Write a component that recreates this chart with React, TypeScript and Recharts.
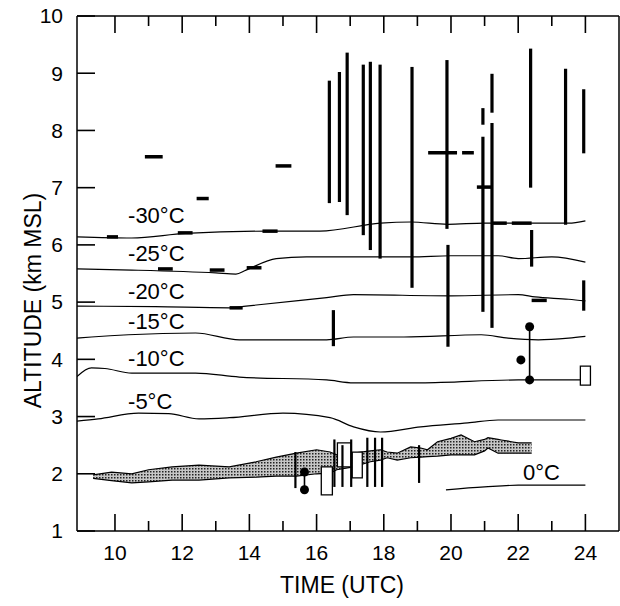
import React from 'react';
import {
  ComposedChart, Line, Area, XAxis, YAxis, ReferenceLine, ReferenceArea, ReferenceDot, Label,
} from 'recharts';

const FONT = '"Liberation Sans", Arial, Helvetica, sans-serif';
const PLOT_H = 515; // plot height (606 - 75 bottom axis - 16 top axis)

const xTicks = [10, 11, 12, 13, 14, 15, 16, 17, 18, 19, 20, 21, 22, 23, 24];
const yTicks = [1, 2, 3, 4, 5, 6, 7, 8, 9, 10];

// isotherms: [time UTC, altitude km]
const iso30 = [[8.87, 6.14], [10.5, 6.12], [12.1, 6.2], [14.6, 6.24], [16.1, 6.24], [17.9, 6.38], [18.8, 6.4], [19.9, 6.36], [21.0, 6.38], [22.4, 6.38], [23.5, 6.38], [24, 6.42]];
const iso25 = [[8.87, 5.58], [10.5, 5.56], [13.0, 5.51], [13.6, 5.49], [13.9, 5.56], [14.8, 5.76], [15.7, 5.79], [17.1, 5.79], [18.8, 5.79], [20.0, 5.81], [21.4, 5.81], [22.0, 5.76], [23.0, 5.79], [24, 5.7]];
const iso20 = [[8.87, 4.93], [11.2, 4.92], [13.4, 4.9], [13.9, 4.93], [16.3, 5.08], [17.1, 5.13], [20.0, 5.11], [22.0, 5.13], [22.5, 5.09], [23.5, 5.05], [24, 5.02]];
const iso15 = [[8.87, 4.37], [9.3, 4.39], [10.4, 4.43], [12.4, 4.46], [13.7, 4.34], [16.3, 4.34], [17.1, 4.39], [18.6, 4.39], [20.9, 4.43], [21.7, 4.37], [22.6, 4.34], [23.5, 4.37], [24, 4.4]];
const iso10 = [[8.87, 3.7], [9.3, 3.85], [9.7, 3.84], [10.5, 3.76], [12.4, 3.76], [13.7, 3.69], [16.3, 3.64], [17.1, 3.59], [19.1, 3.59], [22.0, 3.64], [23.85, 3.64]];
const iso5 = [[8.87, 2.92], [9.5, 2.96], [10.7, 3.06], [11.6, 3.05], [12.5, 2.96], [13.4, 2.98], [15.0, 3.06], [16.4, 2.98], [17.1, 2.82], [17.9, 2.73], [19.1, 2.82], [20.5, 2.89], [21.4, 2.94], [24, 2.94]];
const iso0 = [[19.85, 1.72], [21.0, 1.77], [22.0, 1.8], [24, 1.8]];
const isotherms = [iso30, iso25, iso20, iso15, iso10, iso5, iso0];

const isoLabels = ['-30°C', '-25°C', '-20°C', '-15°C', '-10°C', '-5°C', '0°C'];
const isoLabelT = [10.39, 10.39, 10.39, 10.39, 10.39, 10.39, 22.14];
const isoLabelK = [6.38, 5.72, 5.06, 4.53, 3.88, 3.13, 1.89];

// stippled band
const bandT = [9.35, 9.9, 10.5, 11.0, 11.7, 12.5, 13.4, 14.2, 14.8, 15.4, 16.0, 16.4, 16.6, 17.1, 17.6, 17.9, 18.1, 18.4, 18.8, 19.1, 19.3, 19.6, 20.0, 20.3, 20.7, 21.0, 21.1, 21.4, 21.5, 21.8, 22.0, 22.4];
const bandHigh = [1.98, 2.03, 2.0, 2.07, 2.12, 2.15, 2.12, 2.21, 2.29, 2.36, 2.42, 2.38, 2.33, 2.36, 2.4, 2.42, 2.38, 2.36, 2.47, 2.45, 2.42, 2.56, 2.62, 2.68, 2.56, 2.6, 2.63, 2.6, 2.59, 2.56, 2.54, 2.54];
const bandLow = [1.92, 1.88, 1.84, 1.86, 1.89, 1.89, 1.93, 1.94, 1.96, 1.96, 2.0, 2.01, 2.07, 2.12, 2.21, 2.24, 2.28, 2.24, 2.28, 2.29, 2.3, 2.31, 2.33, 2.33, 2.33, 2.4, 2.45, 2.36, 2.36, 2.36, 2.36, 2.36];

// thick vertical bars (upper)
const barT = [16.38, 16.68, 16.91, 17.39, 17.6, 17.89, 18.84, 19.88, 19.91, 20.95, 20.95, 21.22, 21.22, 22.37, 22.4, 23.41, 23.95, 23.95, 16.5];
const barTop = [8.87, 9.02, 9.36, 9.15, 9.2, 9.15, 9.11, 9.23, 6.0, 8.39, 7.89, 8.99, 8.13, 9.43, 6.26, 9.08, 8.72, 5.38, 4.86];
const barBot = [6.73, 6.75, 6.52, 6.17, 5.91, 5.76, 5.25, 6.28, 4.22, 8.1, 4.83, 8.31, 4.55, 7.0, 5.62, 6.35, 7.6, 4.85, 4.23];

// thinner vertical bars (low)
const lowT = [15.37, 16.53, 16.77, 17.03, 17.51, 17.74, 17.95, 19.05];
const lowTop = [2.38, 2.6, 2.5, 2.6, 2.63, 2.63, 2.63, 2.5];
const lowBot = [1.75, 1.77, 1.77, 1.77, 1.77, 1.77, 1.77, 1.84];

// horizontal dashes
const dashT1 = [9.76, 10.89, 11.28, 11.87, 12.43, 12.82, 13.41, 13.92, 14.39, 14.78, 19.32, 20.33, 20.77, 21.22, 21.81, 22.4];
const dashT2 = [10.09, 11.42, 11.72, 12.31, 12.79, 13.26, 13.8, 14.36, 14.84, 15.25, 20.18, 20.68, 21.22, 21.66, 22.4, 22.85];
const dashK = [6.14, 7.54, 5.58, 6.21, 6.81, 5.56, 4.9, 5.6, 6.24, 7.38, 7.61, 7.61, 7.01, 6.38, 6.38, 5.03];

// open boxes
const boxT1 = [16.14, 16.62, 17.06, 23.85];
const boxT2 = [16.47, 17.03, 17.36, 24.15];
const boxK1 = [1.63, 2.12, 1.93, 3.55];
const boxK2 = [2.12, 2.54, 2.38, 3.88];

// dots and their connectors
const dotT = [15.64, 15.64, 22.34, 22.08, 22.34];
const dotK = [2.03, 1.72, 4.57, 3.99, 3.64];
const linkT = [15.64, 22.34];
const linkTop = [2.03, 4.57];
const linkBot = [1.72, 3.64];

// bottom axis tick: draws the inward tick at the bottom and the matching one on the top frame
const XTick = (props: any) => {
  const { x, y, payload } = props;
  const major = payload.value % 2 === 0;
  const len = major ? 17 : 10;
  const yTop = y - PLOT_H;
  return (
    <g>
      <line x1={x} x2={x} y1={y} y2={y - len} stroke="#000" strokeWidth={1.6} />
      <line x1={x} x2={x} y1={yTop} y2={yTop + len} stroke="#000" strokeWidth={1.6} />
      {major && (
        <text x={x} y={y + 22} dy="0.35em" textAnchor="middle" fontSize={21} fontFamily={FONT} fill="#000">
          {payload.value}
        </text>
      )}
    </g>
  );
};

const YTick = (props: any) => {
  const { x, y, payload } = props;
  return (
    <g>
      <line x1={x} x2={x + 18} y1={y} y2={y} stroke="#000" strokeWidth={1.6} />
      <text x={x - 14} y={y} dy="0.35em" textAnchor="end" fontSize={21} fontFamily={FONT} fill="#000">
        {payload.value}
      </text>
    </g>
  );
};

export default function App() {
  const band = bandT.map((t, i) => ({ t, r: [bandLow[i], bandHigh[i]] }));

  return (
    <div style={{ position: 'absolute', left: 0, top: 0, width: 620, height: 606, background: '#fff' }}>
      <ComposedChart width={620} height={606} margin={{ top: 0, right: 0, bottom: 0, left: 0 }}>
        <defs>
          <pattern id="stipple" width="3" height="3" patternUnits="userSpaceOnUse">
            <rect width="3" height="3" fill="#c6c6c6" />
            <rect x="0" y="0" width="1.5" height="1.5" fill="#222" />
          </pattern>
        </defs>
        <XAxis
          dataKey="t" type="number" domain={[8.87, 25]} ticks={xTicks} interval={0}
          height={75} tickSize={0} tickMargin={0} tickLine={false} allowDataOverflow
          axisLine={{ stroke: '#000', strokeWidth: 1.5 }} tick={<XTick />}
        >
          <Label
            content={(p: any) => (
              <text x={p.viewBox.x + p.viewBox.width / 2 - 6} y={p.viewBox.y + 62} textAnchor="middle"
                fontSize={23} fontFamily={FONT} fill="#000">TIME (UTC)</text>
            )}
          />
        </XAxis>
        <XAxis
          xAxisId="top" orientation="top" type="number" domain={[8.87, 25]} height={16}
          tick={false} tickLine={false} allowDataOverflow axisLine={{ stroke: '#000', strokeWidth: 1.5 }}
        />
        <YAxis
          type="number" domain={[1, 10]} ticks={yTicks} interval={0} width={77}
          tickSize={0} tickMargin={0} tickLine={false} allowDataOverflow
          axisLine={{ stroke: '#000', strokeWidth: 1.5 }} tick={<YTick />}
        >
          <Label
            content={(p: any) => {
              const cx = 33;
              const cy = p.viewBox.y + p.viewBox.height / 2 + 27;
              return (
                <text x={cx} y={cy} transform={`rotate(-90 ${cx} ${cy})`} textAnchor="middle" dy="0.35em"
                  fontSize={23} fontFamily={FONT} fill="#000">ALTITUDE (km MSL)</text>
              );
            }}
          />
        </YAxis>
        <YAxis
          yAxisId="r" orientation="right" type="number" domain={[1, 10]} width={1}
          tick={false} tickLine={false} axisLine={{ stroke: '#000', strokeWidth: 1.5 }}
        />

        <Area
          data={band} dataKey="r" type="linear" stroke="#000" strokeWidth={1.2}
          fill="url(#stipple)" fillOpacity={1} isAnimationActive={false} dot={false} activeDot={false}
        />

        {isotherms.map((iso, i) => (
          <Line
            key={`iso${i}`} data={iso.map(([t, k]) => ({ t, k }))} dataKey="k" type="monotone"
            stroke="#000" strokeWidth={1.2} dot={false} activeDot={false} isAnimationActive={false}
          />
        ))}

        {boxT1.map((t, i) => (
          <ReferenceArea key={`box${i}`} x1={t} x2={boxT2[i]} y1={boxK1[i]} y2={boxK2[i]}
            fill="#fff" fillOpacity={1} stroke="#000" strokeWidth={1.3} />
        ))}

        {barT.map((t, i) => (
          <ReferenceLine key={`bar${i}`} segment={[{ x: t, y: barTop[i] }, { x: t, y: barBot[i] }]}
            stroke="#000" strokeWidth={3.2} />
        ))}
        {lowT.map((t, i) => (
          <ReferenceLine key={`low${i}`} segment={[{ x: t, y: lowTop[i] }, { x: t, y: lowBot[i] }]}
            stroke="#000" strokeWidth={2.2} />
        ))}
        {dashT1.map((t, i) => (
          <ReferenceLine key={`dash${i}`} segment={[{ x: t, y: dashK[i] }, { x: dashT2[i], y: dashK[i] }]}
            stroke="#000" strokeWidth={3.5} />
        ))}
        {linkT.map((t, i) => (
          <ReferenceLine key={`link${i}`} segment={[{ x: t, y: linkTop[i] }, { x: t, y: linkBot[i] }]}
            stroke="#000" strokeWidth={1.6} />
        ))}
        {dotT.map((t, i) => (
          <ReferenceDot key={`dot${i}`} x={t} y={dotK[i]} r={4.5} fill="#000" stroke="none" />
        ))}
        {isoLabels.map((s, i) => (
          <ReferenceDot
            key={`lab${i}`} x={isoLabelT[i]} y={isoLabelK[i]} r={1}
            shape={(p: any) => (
              <text x={p.cx} y={p.cy} fontSize={22} fontFamily={FONT} fill="#000">{s}</text>
            )}
          />
        ))}
      </ComposedChart>
    </div>
  );
}
